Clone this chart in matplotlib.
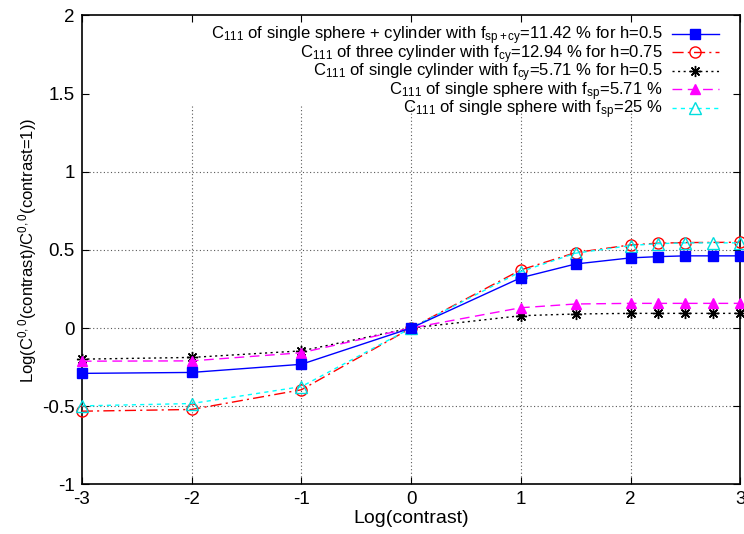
import matplotlib
matplotlib.use("Agg")
import matplotlib.pyplot as plt

plt.rcParams['font.family'] = ['Liberation Sans', 'DejaVu Sans']
plt.rcParams['mathtext.fontset'] = 'custom'
plt.rcParams['mathtext.rm'] = 'Liberation Sans'
plt.rcParams['mathtext.it'] = 'Liberation Sans:italic'
plt.rcParams['mathtext.bf'] = 'Liberation Sans:bold'

# ---- data ----
x_full = [-3, -2, -1, 0, 1, 1.5, 2, 2.25, 2.5, 2.75, 3]
x_red = [-3, -2, -1, 0, 1, 1.5, 2, 2.25, 2.5, 3]

y_sph_cyl = [-0.29, -0.284, -0.232, 0.0, 0.322, 0.41, 0.449, 0.457, 0.462, 0.462, 0.462]
y_three_cyl = [-0.532, -0.521, -0.395, 0.0, 0.372, 0.483, 0.532, 0.543, 0.547, 0.549]
y_single_cyl = [-0.199, -0.188, -0.146, 0.0, 0.079, 0.09, 0.094, 0.094, 0.094, 0.094, 0.094]
y_sph_571 = [-0.212, -0.21, -0.158, 0.0, 0.13, 0.154, 0.158, 0.158, 0.158, 0.158, 0.158]
y_sph_25 = [-0.498, -0.483, -0.375, 0.0, 0.361, 0.479, 0.528, 0.54, 0.545, 0.545, 0.545]

labels = [
    r"C$_{\rm 111}$ of single sphere + cylinder with f$_{\rm sp+cy}$=11.42 % for h=0.5",
    r"C$_{\rm 111}$ of three cylinder with f$_{\rm cy}$=12.94 % for h=0.75",
    r"C$_{\rm 111}$ of single cylinder with f$_{\rm cy}$=5.71 % for h=0.5",
    r"C$_{\rm 111}$ of single sphere with f$_{\rm sp}$=5.71 %",
    r"C$_{\rm 111}$ of single sphere with f$_{\rm sp}$=25 %",
]

xticks = [-3, -2, -1, 0, 1, 2, 3]
yticks = [-1, -0.5, 0, 0.5, 1, 1.5, 2]
ytick_labels = ["-1", "-0.5", "0", "0.5", "1", "1.5", "2"]
xgrid = [-2, -1, 0, 1, 2]
ygrid = [-0.5, 0, 0.5, 1]

fig = plt.figure(figsize=(7.44, 5.34), dpi=100)
ax = fig.add_axes([0.110, 0.093, 0.885, 0.878])

# grid (dotted), kept clear of key area
for gx in xgrid:
    ax.plot([gx, gx], [-1, 1.42], color='0.35', lw=0.8, ls=(0, (1, 2.2)), zorder=1)
for gy in ygrid:
    ax.plot([-3, 3], [gy, gy], color='0.35', lw=0.8, ls=(0, (1, 2.2)), zorder=1)

ax.plot(x_full, y_sph_cyl, color='#0000ff', lw=1.0, ls='-', marker='s', ms=7,
        mfc='#0000ff', mec='#0000ff', label=labels[0], zorder=5, clip_on=False)
ax.plot(x_red, y_three_cyl, color='#ff0000', lw=1.0, ls=(0, (8, 3, 1.5, 3)), marker='o', ms=8,
        mfc='none', mec='#ff0000', mew=1.0, label=labels[1], zorder=4, clip_on=False)
ax.plot(x_full, y_single_cyl, color='black', lw=1.0, ls=(0, (1.5, 2.5)), marker=(8, 2, 0), ms=8,
        mec='black', mew=1.0, label=labels[2], zorder=4, clip_on=False)
ax.plot(x_full, y_sph_571, color='#ff00ff', lw=1.0, ls=(0, (7, 4)), marker='^', ms=7,
        mfc='#ff00ff', mec='#ff00ff', label=labels[3], zorder=4, clip_on=False)
ax.plot(x_full, y_sph_25, color='#00ffff', lw=1.0, ls=(0, (3, 3)), marker='^', ms=8,
        mfc='none', mec='#00dddd', mew=1.0, label=labels[4], zorder=4, clip_on=False)

ax.set_xlim(-3, 3)
ax.set_ylim(-1, 2)
ax.set_xticks(xticks)
ax.set_xticklabels([str(t) for t in xticks])
ax.set_yticks(yticks)
ax.set_yticklabels(ytick_labels)
ax.tick_params(direction='in', top=True, right=True, length=5, width=0.8,
               labelsize=13.5, pad=5)
for s in ax.spines.values():
    s.set_linewidth(1.2)

ax.set_xlabel("Log(contrast)", fontsize=14, labelpad=1)
ax.set_ylabel(r"Log(C$^{\rm 0,0}$(contrast)/C$^{\rm 0,0}$(contrast=1))", fontsize=12, labelpad=2)

leg = ax.legend(loc='upper right', bbox_to_anchor=(0.985, 1.005), frameon=False,
                markerfirst=False, fontsize=12, handlelength=2.8, handletextpad=0.6,
                labelspacing=-0.25, borderpad=0.2)
for t in leg.get_texts():
    t.set_ha('right')
leg._legend_box.align = 'right'

fig.savefig("out.png", dpi=100)
